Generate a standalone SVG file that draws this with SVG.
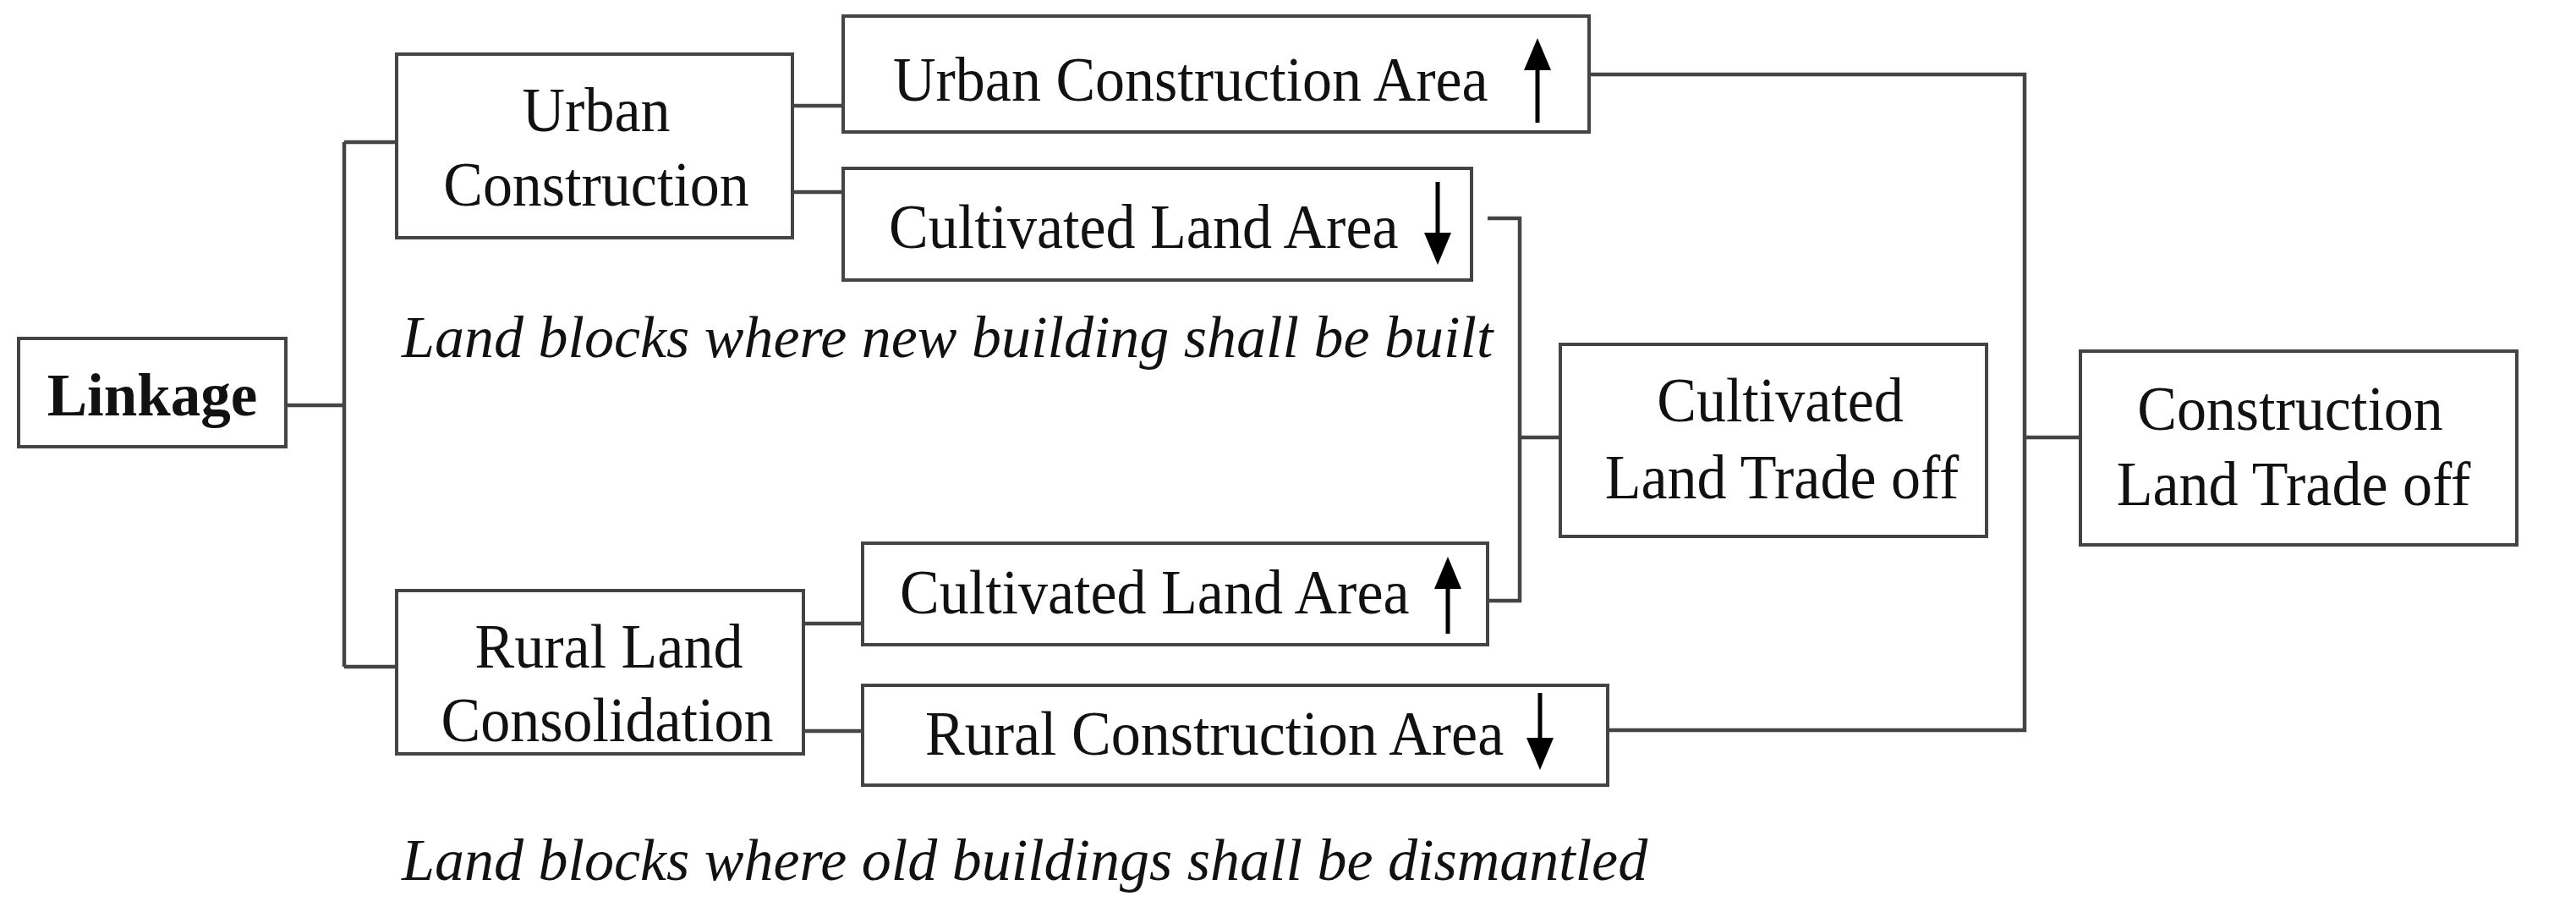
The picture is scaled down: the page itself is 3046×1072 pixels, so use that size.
<svg xmlns="http://www.w3.org/2000/svg" width="3046" height="1072" viewBox="0 0 3046 1072">
<style>
.box{fill:#fff;stroke:#444;stroke-width:4}
.conn{fill:none;stroke:#444;stroke-width:4.5}
.t{font-family:"Liberation Serif","Times New Roman",serif;font-size:70px;fill:#111}
.c{text-anchor:middle}
.b{font-weight:bold;font-size:71px}
.i{font-style:italic}
.arr{stroke:#000;stroke-width:5;marker-end:url(#ah)}
</style>
<defs>
<marker id="ah" viewBox="0 0 38 32" refX="0" refY="16" markerWidth="38" markerHeight="32" markerUnits="userSpaceOnUse" orient="auto">
<path d="M0,0 L38,16 L0,32 Z" fill="#000"/>
</marker>
</defs>
<rect width="3046" height="1072" fill="#fff"/>
<g id="connectors">
<path class="conn" d="M338,479 H407 M407,168 V788 M407,168 H469 M407,788 H469"/>
<path class="conn" d="M937,125 H997 M937,227 H997"/>
<path class="conn" d="M950,737 H1020 M950,864 H1020"/>
<path class="conn" d="M1879,88 H2394 V863 H1901 M2394,517 H2460"/>
<path class="conn" d="M1759,258 H1797 V710 H1759 M1797,517 H1845"/>
</g>
<g id="linkage">
<rect class="box" x="22" y="400" width="316" height="128"/>
<text class="t c b" x="180" y="491">Linkage</text>
</g>
<g id="urban-construction">
<rect class="box" x="469" y="64" width="468" height="217"/>
<text class="t c" transform="translate(705,155) scale(1,1.06)">Urban</text>
<text class="t c" transform="translate(705,243) scale(1,1.06)">Construction</text>
</g>
<g id="rural-land-consolidation">
<rect class="box" x="469" y="698" width="481" height="193"/>
<text class="t c" transform="translate(720,789) scale(1,1.06)">Rural Land</text>
<text class="t c" transform="translate(718,876) scale(1,1.06)">Consolidation</text>
</g>
<g id="urban-construction-area">
<rect class="box" x="997" y="19" width="882" height="137"/>
<text class="t" transform="translate(1056,119) scale(1,1.06)">Urban Construction Area</text>
<line class="arr" x1="1818" y1="145" x2="1818" y2="83"/>
</g>
<g id="cultivated-land-area-down">
<rect class="box" x="997" y="199" width="743" height="132"/>
<text class="t" transform="translate(1051,293) scale(1,1.06)">Cultivated Land Area</text>
<line class="arr" x1="1700" y1="215" x2="1700" y2="275"/>
</g>
<g id="cultivated-land-area-up">
<rect class="box" x="1020" y="642" width="739" height="120"/>
<text class="t" transform="translate(1064,725) scale(1,1.06)">Cultivated Land Area</text>
<line class="arr" x1="1712" y1="749" x2="1712" y2="696"/>
</g>
<g id="rural-construction-area">
<rect class="box" x="1020" y="810" width="881" height="118"/>
<text class="t" transform="translate(1094,892) scale(1,1.06)">Rural Construction Area</text>
<line class="arr" x1="1821" y1="819" x2="1821" y2="872"/>
</g>
<g id="cultivated-land-trade-off">
<rect class="box" x="1845" y="407" width="504" height="227"/>
<text class="t c" transform="translate(2105,498) scale(1,1.06)">Cultivated</text>
<text class="t c" transform="translate(2107,589) scale(1,1.06)">Land Trade off</text>
</g>
<g id="construction-land-trade-off">
<rect class="box" x="2460" y="415" width="516" height="229"/>
<text class="t c" transform="translate(2708,508) scale(1,1.06)">Construction</text>
<text class="t c" transform="translate(2712,597) scale(1,1.06)">Land Trade off</text>
</g>
<g id="notes">
<text class="t i" x="475" y="422">Land blocks where new building shall be built</text>
<text class="t i" x="475" y="1040">Land blocks where old buildings shall be dismantled</text>
</g>
</svg>
